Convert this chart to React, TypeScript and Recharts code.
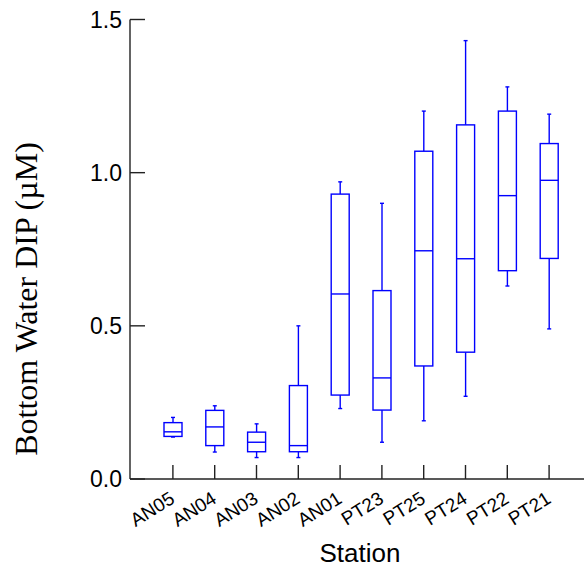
import React from 'react';
import { ComposedChart, Bar, XAxis, YAxis } from 'recharts';

const stations = ['AN05', 'AN04', 'AN03', 'AN02', 'AN01', 'PT23', 'PT25', 'PT24', 'PT22', 'PT21'];
const minVals = [0.137, 0.088, 0.07, 0.07, 0.23, 0.12, 0.19, 0.27, 0.63, 0.49];
const q1Vals = [0.139, 0.109, 0.089, 0.089, 0.274, 0.225, 0.369, 0.414, 0.68, 0.72];
const medianVals = [0.154, 0.17, 0.12, 0.109, 0.604, 0.33, 0.745, 0.719, 0.925, 0.975];
const q3Vals = [0.184, 0.224, 0.153, 0.305, 0.93, 0.615, 1.07, 1.156, 1.201, 1.095];
const maxVals = [0.201, 0.239, 0.18, 0.5, 0.97, 0.9, 1.201, 1.431, 1.28, 1.191];
const yTicks = [0, 0.5, 1.0, 1.5];

const data = stations.map((station, i) => ({
  station,
  min: minVals[i],
  q1: q1Vals[i],
  median: medianVals[i],
  q3: q3Vals[i],
  max: maxVals[i],
  box: [q1Vals[i], q3Vals[i]],
}));

const BLUE = '#0000ff';
const AXIS = '#222';
const SANS = '"Liberation Sans", Arial, sans-serif';
const SERIF = '"Liberation Serif", "Times New Roman", serif';

/**
 * Box + whiskers, drawn from the q1..q3 range bar Recharts gives us
 */
const BoxShape = (props: any) => {
  const { x, y, width, height, payload } = props;
  if (!payload || !height) return null;
  const top = Math.min(y, y + height);
  const h = Math.abs(height);
  const k = h / (payload.q3 - payload.q1);
  const py = (v: number) => top + (payload.q3 - v) * k;
  const cx = x + width / 2;
  const cap = 2;
  return (
    <g stroke={BLUE} strokeWidth={1.4} fill="none">
      <line x1={cx} x2={cx} y1={py(payload.max)} y2={py(payload.q3)} />
      <line x1={cx} x2={cx} y1={py(payload.q1)} y2={py(payload.min)} />
      <line x1={cx - cap} x2={cx + cap} y1={py(payload.max)} y2={py(payload.max)} />
      <line x1={cx - cap} x2={cx + cap} y1={py(payload.min)} y2={py(payload.min)} />
      <rect x={x} y={top} width={width} height={h} fill="#fff" />
      <line x1={x} x2={x + width} y1={py(payload.median)} y2={py(payload.median)} />
    </g>
  );
};

const XTick = (props: any) => {
  const { x, y, payload } = props;
  return (
    <g>
      <line x1={x} x2={x} y1={y} y2={y - 14} stroke={AXIS} strokeWidth={1.4} />
      <text
        transform={`translate(${x + 3},${y + 23}) rotate(-32)`}
        textAnchor="end"
        fontSize={19}
        fontFamily={SANS}
        fill="#000"
      >
        {payload.value}
      </text>
    </g>
  );
};

const YTick = (props: any) => {
  const { x, y, payload } = props;
  return (
    <g>
      <line x1={x} x2={x + 15} y1={y} y2={y} stroke={AXIS} strokeWidth={1.4} />
      <text x={x - 8} y={y} dy="0.36em" textAnchor="end" fontSize={23} fontFamily={SANS} fill="#000">
        {Number(payload.value).toFixed(1)}
      </text>
    </g>
  );
};

const YLabel = () => (
  <text
    x={29}
    y={291}
    transform="rotate(-90, 29, 291)"
    textAnchor="middle"
    fontSize={32}
    fontFamily={SERIF}
    fill="#000"
  >
    Bottom Water DIP (µM)
  </text>
);

const XLabel = () => (
  <text x={352} y={554} textAnchor="middle" fontSize={26} fontFamily={SANS} fill="#000">
    Station
  </text>
);

export default function App() {
  return (
    <div style={{ position: 'absolute', left: 8, top: 8 }}>
      <ComposedChart
        width={576}
        height={559}
        data={data}
        margin={{ top: 11.5, right: 0, left: 0, bottom: 0 }}
      >
        <XAxis
          dataKey="station"
          interval={0}
          padding={{ left: 22, right: 14 }}
          height={88}
          tickSize={0}
          tickMargin={0}
          tickLine={false}
          axisLine={{ stroke: AXIS, strokeWidth: 1.4 }}
          tick={<XTick />}
          label={<XLabel />}
        />
        <YAxis
          type="number"
          domain={[0, 1.5]}
          ticks={yTicks}
          width={122}
          tickSize={0}
          tickMargin={0}
          tickLine={false}
          axisLine={{ stroke: AXIS, strokeWidth: 1.4 }}
          tick={<YTick />}
          label={<YLabel />}
        />
        <Bar dataKey="box" barSize={18} shape={<BoxShape />} isAnimationActive={false} />
      </ComposedChart>
    </div>
  );
}
